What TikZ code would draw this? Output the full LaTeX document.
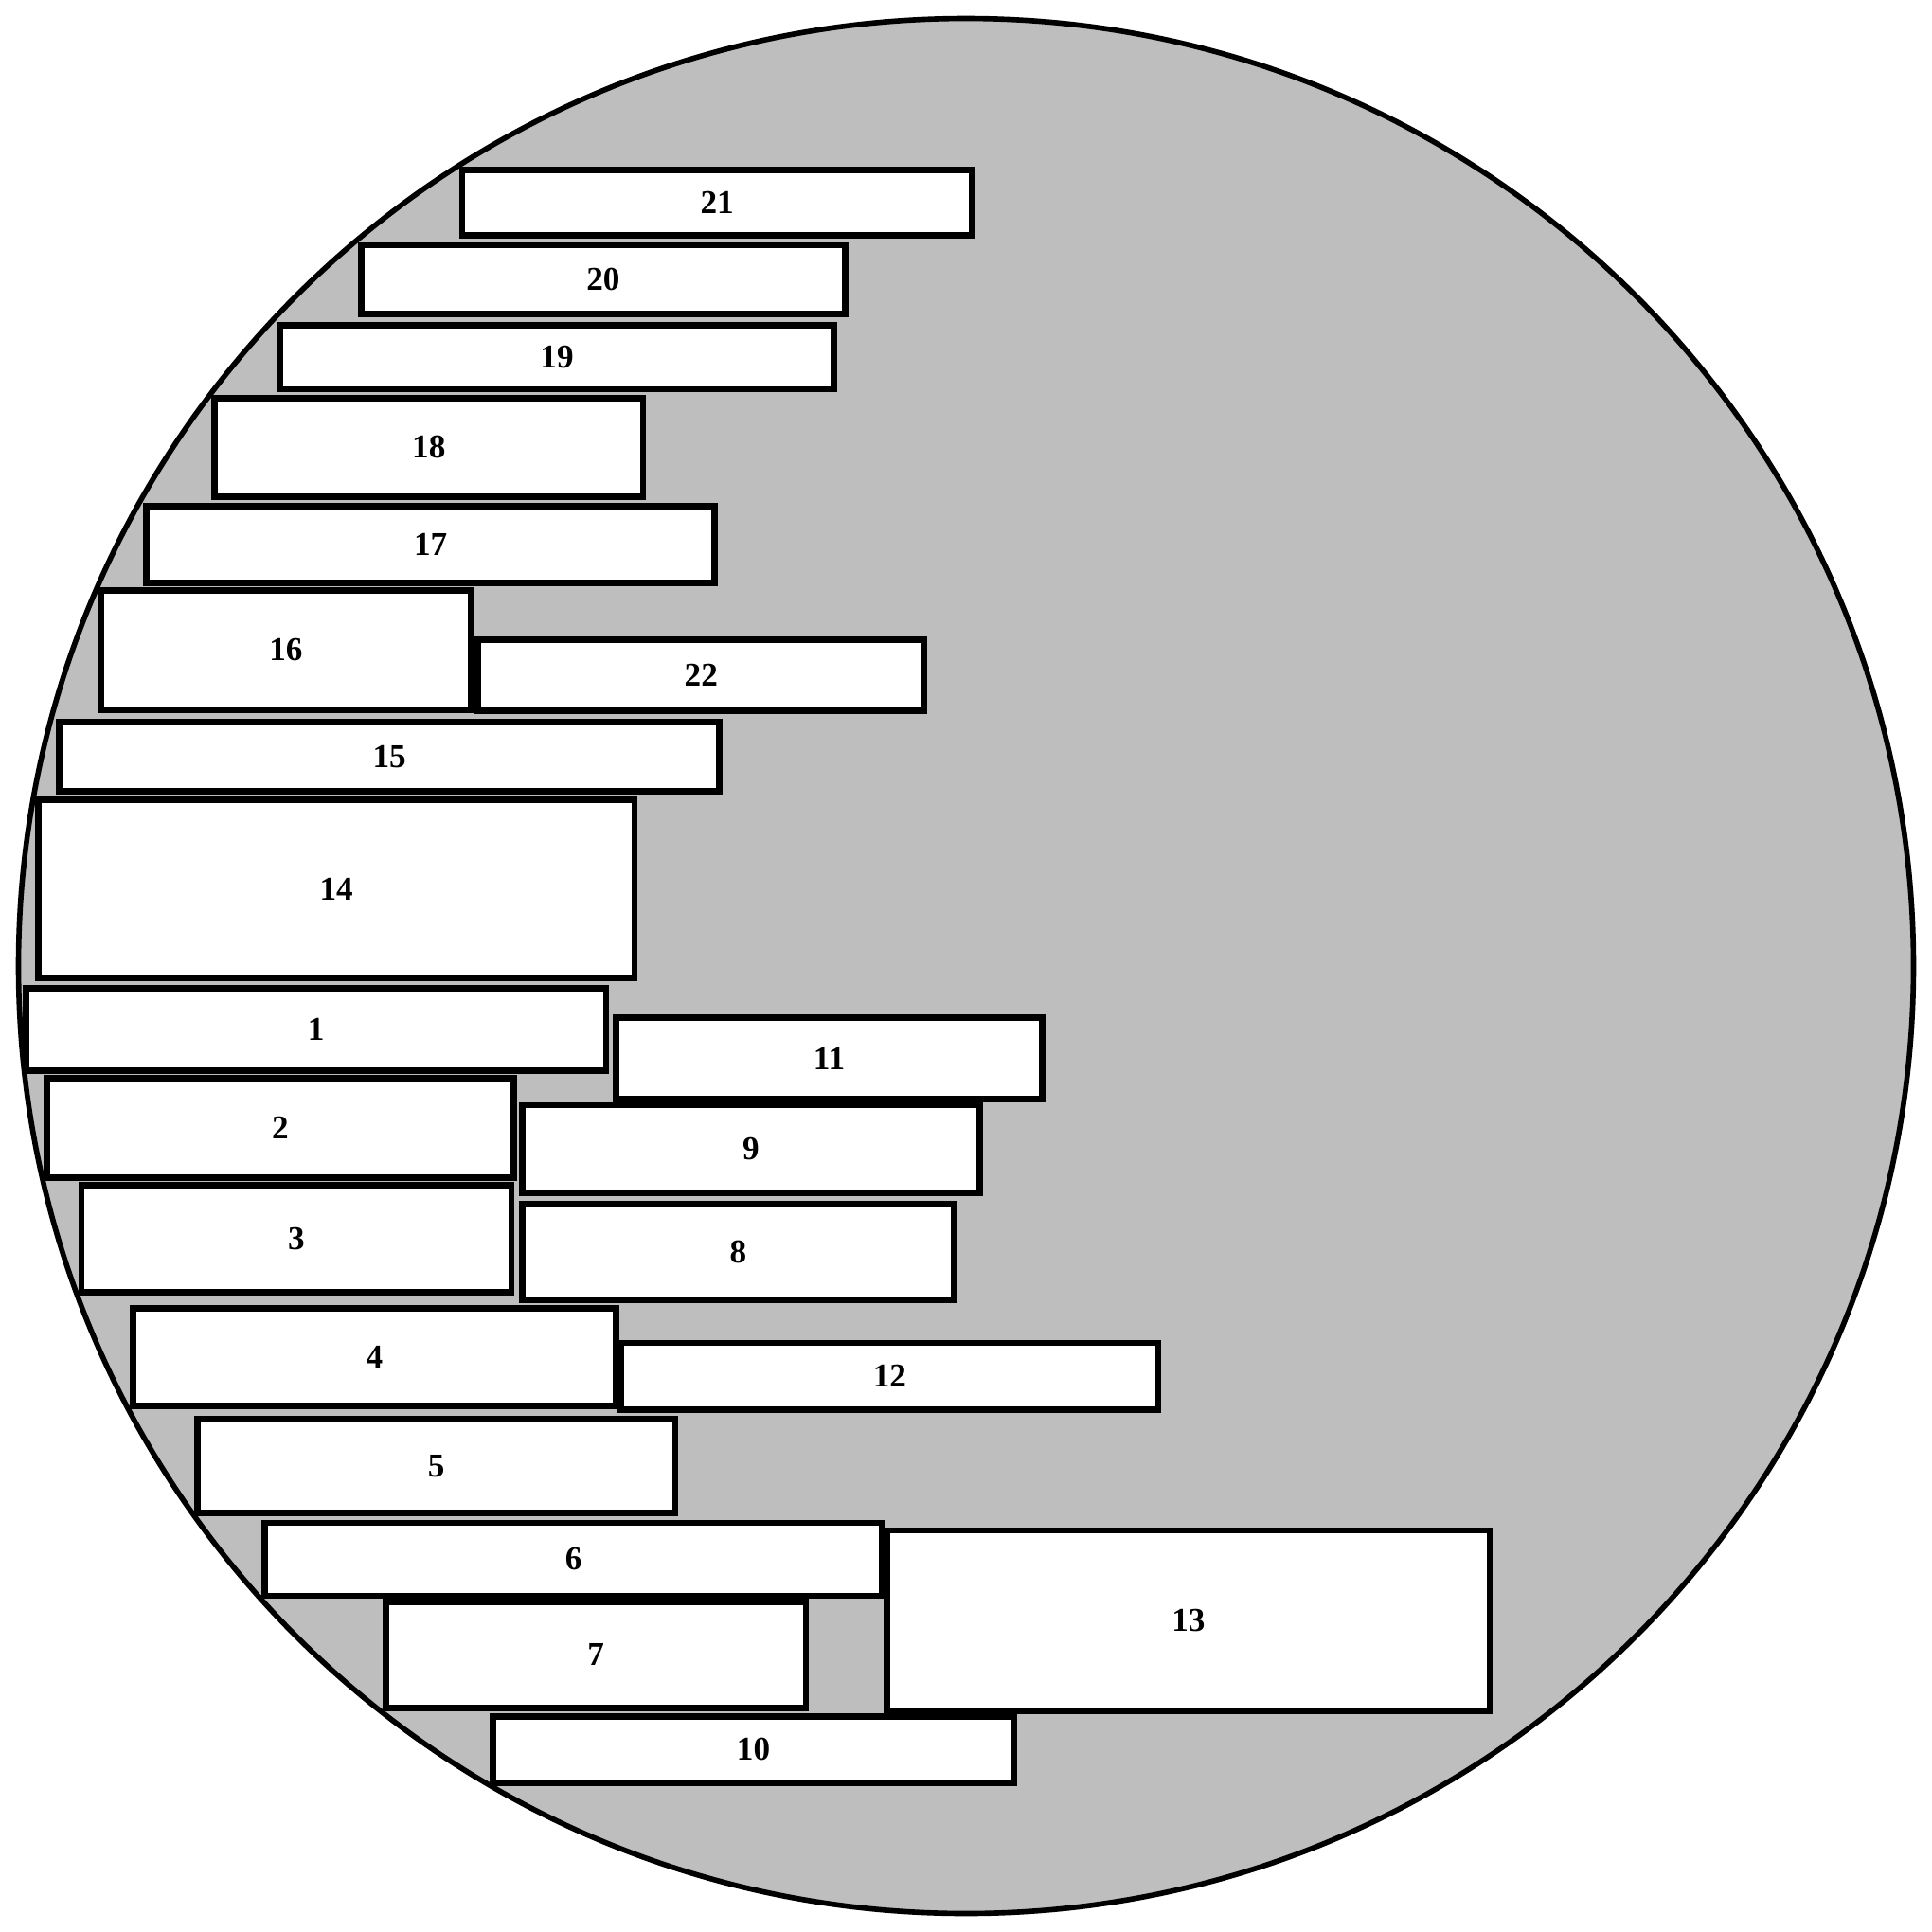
\documentclass[tikz,border=0pt]{standalone}
\usepackage{fontspec}
\setmainfont{Liberation Serif}
\usepackage{xcolor}
\usepackage{tikz}
\definecolor{waferGray}{HTML}{BEBEBE}

\begin{document}
\begin{tikzpicture}[x=0.013cm,y=-0.013cm,
    wafer/.style={fill=waferGray,draw=black,line width=1.6pt},
    plate/.style={fill=white,draw=black,line width=1.9pt},
    lbl/.style={font=\fontsize{10}{12}\selectfont\bfseries,inner sep=0pt}]
  \useasboundingbox (0,0) rectangle (1568,1568);
  % wafer disc
  \draw[wafer] (784,784) circle[radius=769];
  % dies: label/left/top/right/bottom
  \foreach \n/\xa/\ya/\xb/\yb in {
      21/375/138/789/191, 20/293/199/686/255, 19/227/264/677/316,
      18/174/323/522/403, 17/119/411/580/473, 16/82/479/382/576,
      22/388/519/750/577, 15/48/586/584/642, 14/31/649/515/794,
      1/21/802/492/869, 11/500/826/846/892, 2/38/875/417/956,
      9/424/897/795/968, 3/66/962/415/1049, 8/424/977/774/1055,
      4/108/1062/500/1141, 12/504/1090/940/1144, 5/160/1152/548/1228,
      6/215/1236/716/1295, 13/720/1242/1209/1389, 7/313/1300/654/1386,
      10/400/1393/823/1447}
  {
    \draw[plate] (\xa,\ya) rectangle (\xb,\yb);
    \node[lbl] (die\n) at ({(\xa+\xb)/2},{(\ya+\yb)/2}) {\n};
  }
\end{tikzpicture}
\end{document}
